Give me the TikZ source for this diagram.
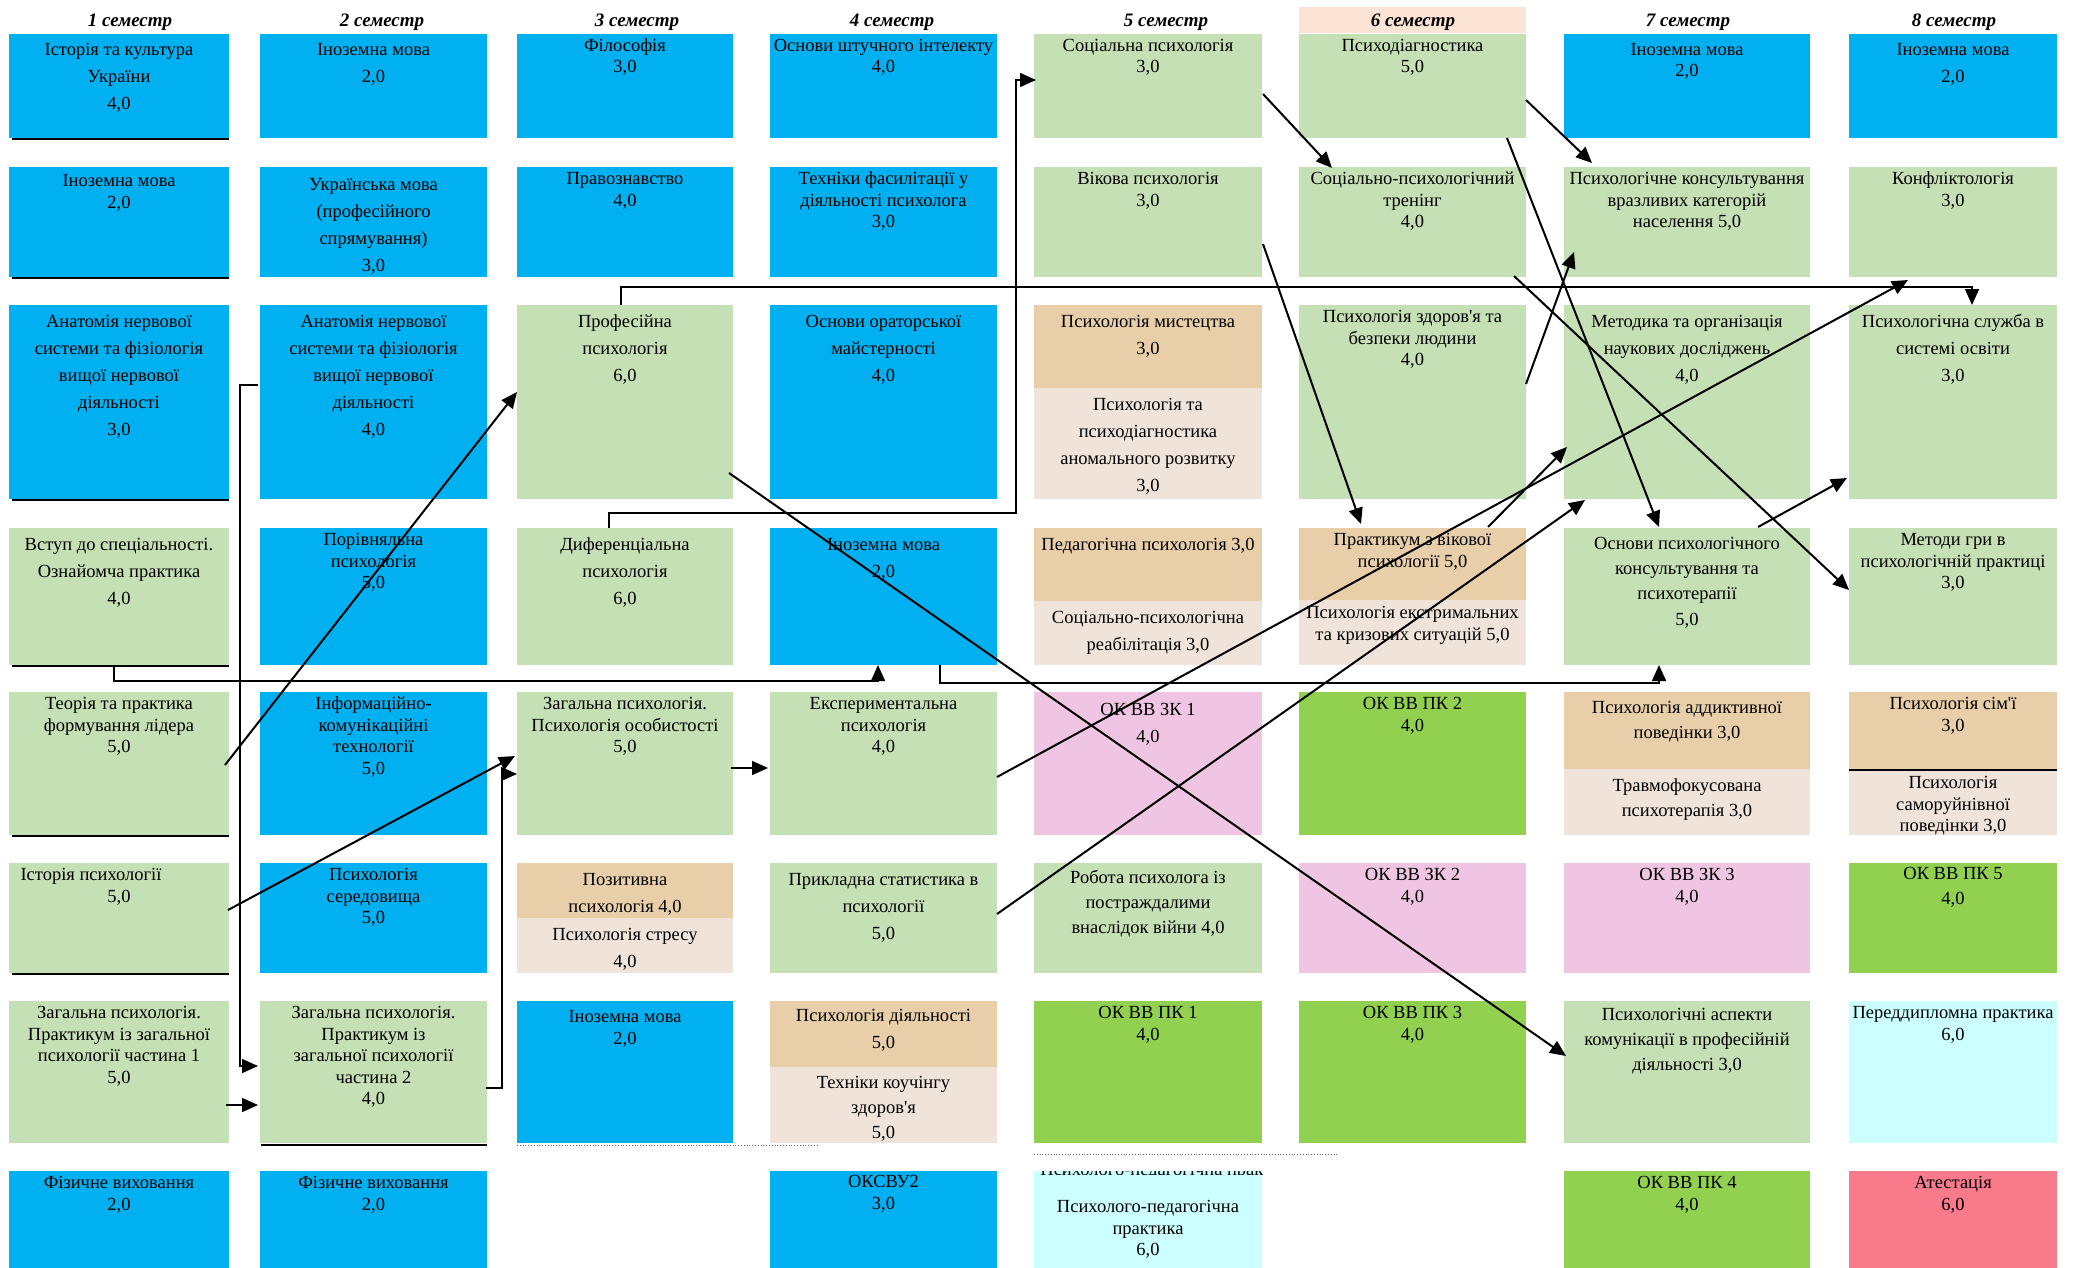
\documentclass[tikz,border=0pt]{standalone}
\usepackage{fontspec}
\setmainfont{Liberation Serif}
\usetikzlibrary{calc,arrows.meta}
\definecolor{cblue}{HTML}{00B0F0}
\definecolor{cgreen}{HTML}{C5E0B4}
\definecolor{ctan}{HTML}{E8CFA9}
\definecolor{cbeige}{HTML}{F0E3DA}
\definecolor{cpink}{HTML}{F0C5E3}
\definecolor{cbright}{HTML}{92D050}
\definecolor{ccyan}{HTML}{CCFFFF}
\definecolor{cred}{HTML}{F97B8B}
\definecolor{cpeach}{HTML}{FBE3D5}
\newcommand\mybox[9]{%
  \node[box,fill=#6,minimum width={(#4-#2)*0.5pt},minimum height={(#5-#3)*0.5pt},anchor=north west] (#1) at (#2,#3) {};
  \node[txt,#7,anchor=north] (#1t) at ($(#1.north)+(0,{#8-14})$) {\rule{0pt}{7pt}#9};}
\begin{document}
\begin{tikzpicture}[x=0.5pt,y=-0.5pt,
  box/.style={rectangle,inner sep=0pt,outer sep=0pt,draw=none},
  txt/.style={align=center,inner sep=0pt},
  sTight/.style={font=\fontsize{9.25}{10.8}\selectfont},
  sLoose/.style={font=\fontsize{9.25}{13.5}\selectfont},
  sMid/.style={font=\fontsize{9.25}{12.6}\selectfont},
  hdr/.style={font=\fontsize{9.5}{11}\selectfont\bfseries\itshape,inner sep=0pt},
  conn/.style={line width=1pt,-{Triangle[length=8pt,width=7pt]}},
  elb/.style={line width=0.75pt,-{Triangle[length=8pt,width=7pt]}},
  uline/.style={line width=0.75pt}
]
\fill[white] (0,0) rectangle (2076,1268);
\useasboundingbox (0,0) rectangle (2076,1268);

% headers
\node[box,fill=cpeach,minimum width=113.5pt,minimum height=13pt,anchor=north west] (h6bg) at (1299,7) {};
\node[hdr,anchor=base] (h1) at (130,27) {1 семестр};
\node[hdr,anchor=base] (h2) at (382,27) {2 семестр};
\node[hdr,anchor=base] (h3) at (637,27) {3 семестр};
\node[hdr,anchor=base] (h4) at (892,27) {4 семестр};
\node[hdr,anchor=base] (h5) at (1166,27) {5 семестр};
\node[hdr,anchor=base] (h6) at (1413,27) {6 семестр};
\node[hdr,anchor=base] (h7) at (1688,27) {7 семестр};
\node[hdr,anchor=base] (h8) at (1954,27) {8 семестр};

% column 1
\mybox{c1r1}{9}{34}{229}{138}{cblue}{sLoose}{21}{Історія та культура\\України\\4,0}
\mybox{c1r2}{9}{167}{229}{277}{cblue}{sTight}{19}{Іноземна мова\\2,0}
\mybox{c1r3}{9}{305}{229}{499}{cblue}{sLoose}{22}{Анатомія нервової\\системи та фізіологія\\вищої нервової\\діяльності\\3,0}
\mybox{c1r4}{9}{528}{229}{665}{cgreen}{sLoose}{22}{Вступ до спеціальності.\\Ознайомча практика\\4,0}
\mybox{c1r5}{9}{692}{229}{835}{cgreen}{sTight}{17}{Теорія та практика\\формування лідера\\5,0}
\mybox{c1r6}{9}{863}{229}{973}{cgreen}{sTight}{17}{Історія психології\kern28pt\null\\5,0}
\mybox{c1r7}{9}{1001}{229}{1143}{cgreen}{sTight}{17}{Загальна психологія.\\Практикум із загальної\\психології частина 1\\5,0}
\mybox{c1r8}{9}{1171}{229}{1268}{cblue}{sTight}{17}{Фізичне виховання\\2,0}

% column 2
\mybox{c2r1}{260}{34}{487}{138}{cblue}{sLoose}{21}{Іноземна мова\\2,0}
\mybox{c2r2}{260}{167}{487}{277}{cblue}{sLoose}{23}{Українська мова\\(професійного\\спрямування)\\3,0}
\mybox{c2r3}{260}{305}{487}{499}{cblue}{sLoose}{22}{Анатомія нервової\\системи та фізіологія\\вищої нервової\\діяльності\\4,0}
\mybox{c2r4}{260}{528}{487}{665}{cblue}{sTight}{17}{Порівняльна\\психологія\\5,0}
\mybox{c2r5}{260}{692}{487}{835}{cblue}{sTight}{17}{Інформаційно-\\комунікаційні\\технології\\5,0}
\mybox{c2r6}{260}{863}{487}{973}{cblue}{sTight}{17}{Психологія\\середовища\\5,0}
\mybox{c2r7}{260}{1001}{487}{1143}{cgreen}{sTight}{17}{Загальна психологія.\\Практикум із\\загальної психології\\частина 2\\4,0}
\mybox{c2r8}{260}{1171}{487}{1268}{cblue}{sTight}{17}{Фізичне виховання\\2,0}

% column 3
\mybox{c3r1}{517}{34}{733}{138}{cblue}{sTight}{17}{Філософія\\3,0}
\mybox{c3r2}{517}{167}{733}{277}{cblue}{sTight}{17}{Правознавство\\4,0}
\mybox{c3r3}{517}{305}{733}{499}{cgreen}{sLoose}{22}{Професійна\\психологія\\6,0}
\mybox{c3r4}{517}{528}{733}{665}{cgreen}{sLoose}{22}{Диференціальна\\психологія\\6,0}
\mybox{c3r5}{517}{692}{733}{835}{cgreen}{sTight}{17}{Загальна психологія.\\Психологія особистості\\5,0}
\mybox{c3r6a}{517}{863}{733}{918}{ctan}{sLoose}{22}{Позитивна\\психологія 4,0}
\mybox{c3r6b}{517}{918}{733}{973}{cbeige}{sLoose}{22}{Психологія стресу\\4,0}
\mybox{c3r7}{517}{1001}{733}{1143}{cblue}{sTight}{21}{Іноземна мова\\2,0}

% column 4
\mybox{c4r1}{770}{34}{997}{138}{cblue}{sTight}{17}{Основи штучного інтелекту\\4,0}
\mybox{c4r2}{770}{167}{997}{277}{cblue}{sTight}{17}{Техніки фасилітації у\\діяльності психолога\\3,0}
\mybox{c4r3}{770}{305}{997}{499}{cblue}{sLoose}{22}{Основи ораторської\\майстерності\\4,0}
\mybox{c4r4}{770}{528}{997}{665}{cblue}{sLoose}{22}{Іноземна мова\\2,0}
\mybox{c4r5}{770}{692}{997}{835}{cgreen}{sTight}{17}{Експериментальна\\психологія\\4,0}
\mybox{c4r6}{770}{863}{997}{973}{cgreen}{sLoose}{22}{Прикладна статистика в\\психології\\5,0}
\mybox{c4r7a}{770}{1001}{997}{1067}{ctan}{sLoose}{20}{Психологія діяльності\\5,0}
\mybox{c4r7b}{770}{1067}{997}{1143}{cbeige}{sMid}{21}{Техніки коучінгу\\здоров\textquotesingle я\\5,0}
\mybox{c4r8}{770}{1171}{997}{1268}{cblue}{sTight}{16}{ОКСВУ2\\3,0}

% column 5
\mybox{c5r1}{1034}{34}{1262}{138}{cgreen}{sTight}{17}{Соціальна психологія\\3,0}
\mybox{c5r2}{1034}{167}{1262}{277}{cgreen}{sTight}{17}{Вікова психологія\\3,0}
\mybox{c5r3a}{1034}{305}{1262}{388}{ctan}{sLoose}{22}{Психологія мистецтва\\3,0}
\mybox{c5r3b}{1034}{388}{1262}{499}{cbeige}{sLoose}{22}{Психологія та\\психодіагностика\\аномального розвитку\\3,0}
\mybox{c5r4a}{1034}{528}{1262}{601}{ctan}{sLoose}{22}{Педагогічна психологія 3,0}
\mybox{c5r4b}{1034}{601}{1262}{665}{cbeige}{sLoose}{22}{Соціально-психологічна\\реабілітація 3,0}
\mybox{c5r5}{1034}{692}{1262}{835}{cpink}{sLoose}{23}{ОК ВВ ЗК 1\\4,0}
\mybox{c5r6}{1034}{863}{1262}{973}{cgreen}{sMid}{20}{Робота психолога із\\постраждалими\\внаслідок війни 4,0}
\mybox{c5r7}{1034}{1001}{1262}{1143}{cbright}{sTight}{17}{ОК ВВ ПК 1\\4,0}
\mybox{c5r8}{1034}{1171}{1262}{1268}{ccyan}{sTight}{41}{Психолого-педагогічна\\практика\\6,0}
\begin{scope}
\clip (c5r8.north west) rectangle ($(c5r8.north east)+(0,3)$);
\node[txt,sTight,anchor=base west] (c5r8x) at ($(c5r8.north west)+(6,4)$) {Психолого-педагогічна практика};
\end{scope}

% column 6
\mybox{c6r1}{1299}{34}{1526}{138}{cgreen}{sTight}{17}{Психодіагностика\\5,0}
\mybox{c6r2}{1299}{167}{1526}{277}{cgreen}{sTight}{17}{Соціально-психологічний\\тренінг\\4,0}
\mybox{c6r3}{1299}{305}{1526}{499}{cgreen}{sTight}{17}{Психологія здоров\textquotesingle я та\\безпеки людини\\4,0}
\mybox{c6r4a}{1299}{528}{1526}{600}{ctan}{sTight}{17}{Практикум з вікової\\психології 5,0}
\mybox{c6r4b}{1299}{600}{1526}{665}{cbeige}{sTight}{18}{Психологія екстримальних\\та кризових ситуацій 5,0}
\mybox{c6r5}{1299}{692}{1526}{835}{cbright}{sTight}{17}{ОК ВВ ПК 2\\4,0}
\mybox{c6r6}{1299}{863}{1526}{973}{cpink}{sTight}{17}{ОК ВВ ЗК 2\\4,0}
\mybox{c6r7}{1299}{1001}{1526}{1143}{cbright}{sTight}{17}{ОК ВВ ПК 3\\4,0}

% column 7
\mybox{c7r1}{1564}{34}{1810}{138}{cblue}{sTight}{21}{Іноземна мова\\2,0}
\mybox{c7r2}{1564}{167}{1810}{277}{cgreen}{sTight}{17}{Психологічне консультування\\вразливих категорій\\населення 5,0}
\mybox{c7r3}{1564}{305}{1810}{499}{cgreen}{sLoose}{22}{Методика та організація\\наукових досліджень\\4,0}
\mybox{c7r4}{1564}{528}{1810}{665}{cgreen}{sMid}{21}{Основи психологічного\\консультування та\\психотерапії\\5,0}
\mybox{c7r5a}{1564}{692}{1810}{769}{ctan}{sMid}{21}{Психологія аддиктивної\\поведінки 3,0}
\mybox{c7r5b}{1564}{769}{1810}{835}{cbeige}{sMid}{22}{Травмофокусована\\психотерапія 3,0}
\mybox{c7r6}{1564}{863}{1810}{973}{cpink}{sTight}{17}{ОК ВВ ЗК 3\\4,0}
\mybox{c7r7}{1564}{1001}{1810}{1143}{cgreen}{sMid}{19}{Психологічні аспекти\\комунікації в професійній\\діяльності 3,0}
\mybox{c7r8}{1564}{1171}{1810}{1268}{cbright}{sTight}{17}{ОК ВВ ПК 4\\4,0}

% column 8
\mybox{c8r1}{1849}{34}{2057}{138}{cblue}{sLoose}{21}{Іноземна мова\\2,0}
\mybox{c8r2}{1849}{167}{2057}{277}{cgreen}{sTight}{17}{Конфліктологія\\3,0}
\mybox{c8r3}{1849}{305}{2057}{499}{cgreen}{sLoose}{22}{Психологічна служба в\\системі освіти\\3,0}
\mybox{c8r4}{1849}{528}{2057}{665}{cgreen}{sTight}{17}{Методи гри в\\психологічній практиці\\3,0}
\mybox{c8r5a}{1849}{692}{2057}{770}{ctan}{sTight}{17}{Психологія сім\textquotesingle ї\\3,0}
\mybox{c8r5b}{1849}{770}{2057}{835}{cbeige}{sTight}{18}{Психологія\\саморуйнівної\\поведінки 3,0}
\mybox{c8r6}{1849}{863}{2057}{973}{cbright}{sMid}{16}{ОК ВВ ПК 5\\4,0}
\mybox{c8r7}{1849}{1001}{2057}{1143}{ccyan}{sTight}{17}{Переддипломна практика\\6,0}
\mybox{c8r8}{1849}{1171}{2057}{1268}{cred}{sTight}{17}{Атестація\\6,0}

% rules under boxes
\foreach \n in {c1r1,c1r2,c1r3,c1r4,c1r5,c1r6}
  \draw[uline] ($(\n.south west)+(3,1)$) -- ($(\n.south east)+(0,1)$);
\draw[uline] ($(c2r7.south west)+(1,2)$) -- ($(c2r7.south east)+(0,2)$);
\draw[line width=1pt] (c8r5a.south west) -- (c8r5a.south east);
\draw[densely dotted,black!60,line width=0.4pt] ($(c3r7.south west)+(0,2)$) -- ++(302,0);
\draw[densely dotted,black!60,line width=0.4pt] ($(c5r7.south west)+(0,11)$) -- ++(303,0);

% elbow connectors
\draw[elb] ($(c2r3.north west)+(-2,80)$) -- ++(-18,0) |- ($(c2r7.north west)+(-2,65)$);
\draw[elb] ($(c1r7.north east)+(-3,104)$) -- ($(c2r7.north west)+(-2,104)$);
\draw[elb] ($(c2r7.north east)+(-1,87)$) -- ++(16,0) |- ($(c3r5.north west)+(0,82)$);
\draw[elb] ($(c3r5.north east)+(-2,76)$) -- ($(c4r5.north west)+(-2,76)$);
\draw[elb] ($(c1r4.south)+(-5,1)$) -- ++(0,15) -| ($(c4r4.south west)+(108,0)$);
\draw[elb] ($(c4r4.south west)+(170,0)$) -- ++(0,18) -| ($(c7r4.south west)+(95,0)$);
\draw[elb] ($(c3r4.north west)+(92,0)$) -- ++(0,-15) -- ++(407,0) |- ($(c5r1.north west)+(2,46)$);
\draw[elb] ($(c3r3.north west)+(104,0)$) -- ++(0,-18) -| ($(c8r3.north west)+(123,0)$);

% diagonal connectors
\draw[conn] ($(c1r5.north east)+(-4,73)$) -- ($(c3r3.north west)+(0,87)$);
\draw[conn] ($(c1r6.north east)+(-1,47)$) -- ($(c3r5.north west)+(-2,64)$);
\draw[conn] ($(c3r3.south east)+(-4,-26)$) -- ($(c7r7.north west)+(2,55)$);
\draw[conn] ($(c5r1.north east)+(1,60)$) -- ($(c6r2.north west)+(33,1)$);
\draw[conn] ($(c5r2.north east)+(1,77)$) -- ($(c6r4a.north west)+(62,-4)$);
\draw[conn] ($(c6r1.north east)+(0,66)$) -- ($(c7r2.north west)+(28,-4)$);
\draw[conn] ($(c6r1.south east)+(-19,0)$) -- ($(c7r4.north west)+(95,-1)$);
\draw[conn] ($(c6r2.south east)+(-12,-1)$) -- ($(c8r4.north west)+(0,62)$);
\draw[conn] ($(c6r3.north east)+(0,79)$) -- ($(c7r2.north west)+(10,85)$);
\draw[conn] ($(c6r4a.north west)+(189,-1)$) -- ($(c7r3.north west)+(3,142)$);
\draw[conn] ($(c4r5.north east)+(0,85)$) -- ($(c8r2.south west)+(59,3)$);
\draw[conn] ($(c4r6.north east)+(0,51)$) -- ($(c7r3.south west)+(21,1)$);
\draw[conn] ($(c7r4.north west)+(194,-1)$) -- ($(c8r3.north west)+(-2,173)$);
\end{tikzpicture}
\end{document}
